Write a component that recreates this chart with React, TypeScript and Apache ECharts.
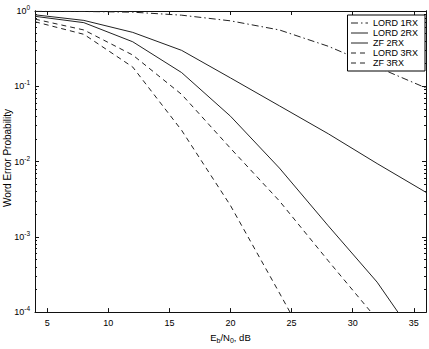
import React, { useEffect, useRef } from "react";
import * as echarts from "echarts";

const ebn0 = [4, 8, 12, 16, 20, 24, 28, 32, 36];
const lord1rx = [0.99, 0.985, 0.965, 0.88, 0.74, 0.56, 0.34, 0.18, 0.095];
const lord2rx = [0.85, 0.7, 0.39, 0.152, 0.04, 0.0082, 0.0014, 0.00025, 0.000029];
const zf2rx = [0.89, 0.75, 0.52, 0.3, 0.129, 0.055, 0.0234, 0.0094, 0.0039];
const lord3rx = [0.72, 0.49, 0.18, 0.026, 0.0026, 0.00018, 0.000012];
const zf3rx = [0.78, 0.56, 0.26, 0.078, 0.015, 0.003, 0.00048, 0.00008];

const xTicks = [5, 10, 15, 20, 25, 30, 35];
const yMajor = [1e-4, 1e-3, 1e-2, 1e-1, 1];
const yMinor: number[] = [];
for (let e = -4; e <= -1; e++) {
  for (let k = 2; k <= 9; k++) yMinor.push(parseFloat((k * Math.pow(10, e)).toPrecision(3)));
}

const FONT = "'Liberation Sans', Arial, Helvetica, sans-serif";
const INK = "#111";

function pairs(ys: number[]) {
  return ys.map((y, i) => [ebn0[i], y]);
}

export default function App() {
  const ref = useRef<HTMLDivElement>(null);
  useEffect(() => {
    if (!ref.current) return;
    const chart = echarts.init(ref.current, undefined, { renderer: "svg" });
    const lineCommon = { type: "line" as const, showSymbol: false, symbol: "none", clip: true, xAxisIndex: 0, yAxisIndex: 0 };
    const yLog = (extra: any) => ({
      type: "log",
      logBase: 10,
      min: 1e-4,
      max: 1,
      splitLine: { show: false },
      axisLine: { show: true, onZero: false, lineStyle: { color: INK, width: 1 } },
      ...extra,
    });
    chart.setOption({
      animation: false,
      backgroundColor: "#fff",
      textStyle: { fontFamily: FONT },
      grid: { left: 35, right: 3, top: 11, bottom: 30, containLabel: false },
      xAxis: [
        {
          type: "value",
          min: 4,
          max: 36,
          position: "bottom",
          name: "{a|E}{s|b}{a|/N}{s|0}{a|, dB}",
          nameLocation: "middle",
          nameGap: 17,
          nameTextStyle: {
            rich: {
              a: { fontSize: 9.5, fontFamily: FONT, color: "#000", lineHeight: 14 },
              s: { fontSize: 7, fontFamily: FONT, color: "#000", verticalAlign: "bottom", lineHeight: 10 },
            },
          },
          splitLine: { show: false },
          axisLine: { show: true, onZero: false, lineStyle: { color: INK, width: 1 } },
          axisTick: { show: true, inside: true, length: 4, customValues: xTicks, lineStyle: { color: INK } },
          axisLabel: { show: true, customValues: xTicks, margin: 6, fontSize: 9, fontFamily: FONT, color: "#000" },
        },
        {
          type: "value",
          min: 4,
          max: 36,
          position: "top",
          splitLine: { show: false },
          axisLine: { show: true, onZero: false, lineStyle: { color: INK, width: 1 } },
          axisTick: { show: true, inside: true, length: 4, customValues: xTicks, lineStyle: { color: INK } },
          axisLabel: { show: false },
        },
      ],
      yAxis: [
        yLog({
          position: "left",
          axisTick: { show: true, inside: true, length: 4, customValues: yMajor, lineStyle: { color: INK } },
          axisLabel: {
            show: true,
            customValues: yMajor,
            margin: 5,
            formatter: (v: number) => `{b|10}{e|${Math.round(Math.log10(v))}}`,
            rich: {
              b: { fontSize: 9, fontFamily: FONT, color: "#000", lineHeight: 14 },
              e: { fontSize: 6.5, fontFamily: FONT, color: "#000", verticalAlign: "top", lineHeight: 8 },
            },
          },
        }),
        yLog({
          position: "left",
          axisTick: { show: true, inside: true, length: 2, customValues: yMinor, lineStyle: { color: INK } },
          axisLabel: { show: false },
        }),
        yLog({
          position: "right",
          axisTick: { show: true, inside: true, length: 4, customValues: yMajor, lineStyle: { color: INK } },
          axisLabel: { show: false },
        }),
        yLog({
          position: "right",
          axisTick: { show: true, inside: true, length: 2, customValues: yMinor, lineStyle: { color: INK } },
          axisLabel: { show: false },
        }),
      ],
      legend: {
        orient: "vertical",
        right: 4,
        top: 15,
        padding: [3, 7, 3, 3],
        itemGap: 0,
        itemWidth: 17,
        itemHeight: 8,
        backgroundColor: "#fff",
        borderColor: "#000",
        borderWidth: 1,
        borderRadius: 0,
        itemStyle: { opacity: 0, color: "transparent", borderWidth: 0 },
        lineStyle: { width: 1 },
        textStyle: { fontSize: 9, fontFamily: FONT, color: "#000", lineHeight: 10 },
        data: ["LORD 1RX", "LORD 2RX", "ZF 2RX", "LORD 3RX", "ZF 3RX"],
      },
      graphic: [
        {
          type: "text",
          x: 7,
          y: 158,
          rotation: Math.PI / 2,
          style: {
            text: "Word Error Probability",
            fontSize: 10,
            fontFamily: FONT,
            fill: "#000",
            align: "center",
            verticalAlign: "middle",
          },
        },
      ],
      series: [
        { ...lineCommon, name: "LORD 1RX", data: pairs(lord1rx), lineStyle: { color: "#222", width: 1, type: [7, 3, 1.5, 3] }, itemStyle: { color: "#222" } },
        { ...lineCommon, name: "LORD 2RX", data: pairs(lord2rx), lineStyle: { color: "#222", width: 1, type: "solid" }, itemStyle: { color: "#222" } },
        { ...lineCommon, name: "ZF 2RX", data: pairs(zf2rx), lineStyle: { color: "#222", width: 1, type: "solid" }, itemStyle: { color: "#222" } },
        { ...lineCommon, name: "LORD 3RX", data: pairs(lord3rx), lineStyle: { color: "#222", width: 1, type: [5, 4] }, itemStyle: { color: "#222" } },
        { ...lineCommon, name: "ZF 3RX", data: pairs(zf3rx), lineStyle: { color: "#222", width: 1, type: [5, 4] }, itemStyle: { color: "#222" } },
      ],
    });
    return () => chart.dispose();
  }, []);
  return <div ref={ref} style={{ position: "fixed", left: 0, top: 0, width: 429, height: 349 }} />;
}
